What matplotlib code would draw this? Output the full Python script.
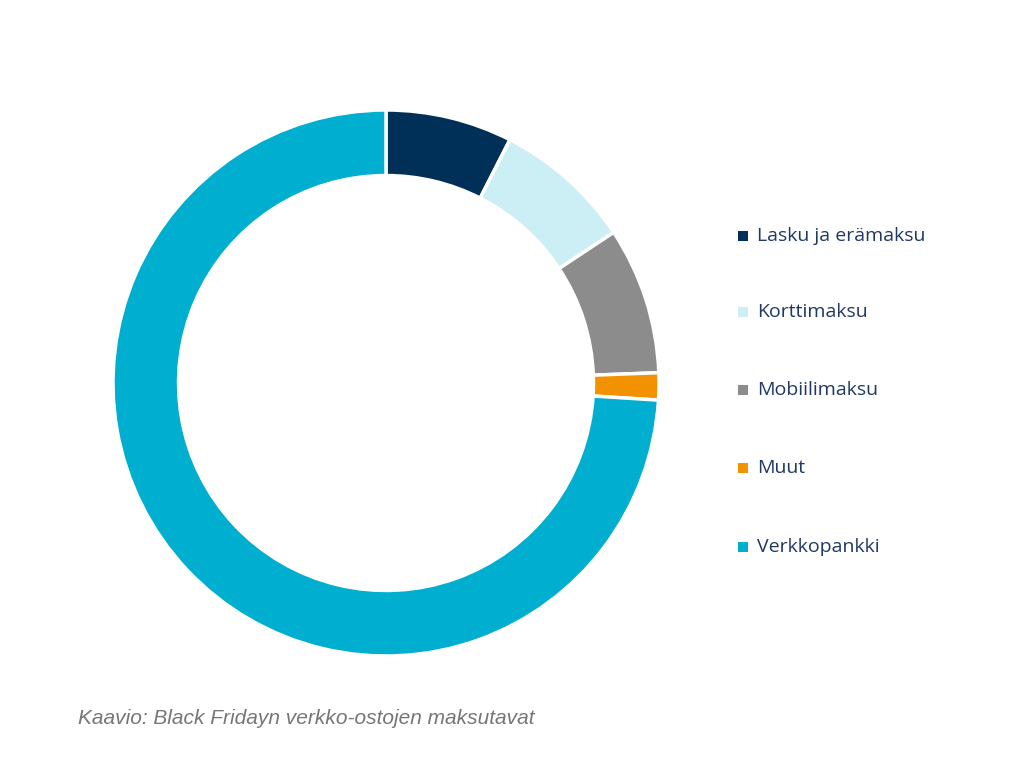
import matplotlib
matplotlib.use("Agg")
import matplotlib.pyplot as plt
from matplotlib.patches import Rectangle

categories = ["Lasku ja erämaksu", "Korttimaksu", "Mobiilimaksu", "Muut", "Verkkopankki"]
values = [7.5, 8.2, 8.7, 1.6, 74.0]
colors = ["#003057", "#CCEEF5", "#8C8C8C", "#F39200", "#00AECF"]
caption = "Kaavio: Black Fridayn verkko-ostojen maksutavat"

W, H = 1024, 768
fig = plt.figure(figsize=(W/100, H/100), dpi=100)
cx, cy, r = 386, 383, 273
ax = fig.add_axes([(cx-r)/W, (H-cy-r)/H, 2*r/W, 2*r/H])
ax.pie(values, colors=colors, startangle=90, counterclock=False, radius=1,
       wedgeprops=dict(width=0.24, edgecolor="white", linewidth=2.5))
ax.set_xlim(-1, 1); ax.set_ylim(-1, 1)
ax.axis("off")

rows = [236, 312, 390, 468, 547]
for lab, col, y in zip(categories, colors, rows):
    fig.patches.append(Rectangle(((738)/W, (H-y-5)/H), 10/W, 10/H, transform=fig.transFigure,
                                 facecolor=col, edgecolor="none"))
    fig.text(757/W, (H-y)/H, lab, fontsize=14, color="#1F3864", va="center", ha="left",
             family="Open Sans")

fig.text(78/W, (H-718)/H, caption, fontsize=15, style="italic", color="#767676",
         va="center", ha="left", family="Liberation Sans")
fig.savefig("out.png", dpi=100, facecolor="white")
